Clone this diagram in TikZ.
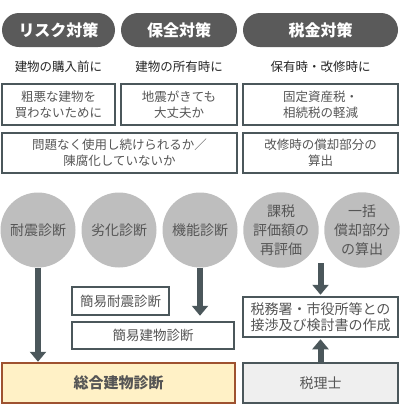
\documentclass[tikz,border=0pt]{standalone}
\usepackage{fontspec}
\setmainfont{Noto Sans CJK JP}
\usetikzlibrary{arrows.meta}
\definecolor{pillgray}{HTML}{5A5A5A}
\definecolor{slate}{HTML}{4B575B}
\definecolor{circgray}{HTML}{BEBEBE}
\definecolor{txtgray}{HTML}{555555}
\definecolor{sogofill}{HTML}{FFF1C6}
\definecolor{sogoline}{HTML}{9E5230}
\definecolor{zeirifill}{HTML}{EFEFEF}
\tikzset{%
  pill/.style={fill=pillgray, text=white, rounded corners=17pt, minimum height=34pt,
               inner sep=0pt, font=\fontsize{16}{18}\selectfont\bfseries},
  sub/.style={text=black!85, font=\fontsize{12.5}{14}\selectfont},
  frame/.style={draw=slate, line width=2.5pt, fill=white, text=txtgray, inner sep=0pt,
                align=center, font=\fontsize{12.5}{16}\selectfont},
  diag/.style={circle, fill=circgray, text=txtgray, minimum size=75pt, inner sep=0pt,
               align=center, font=\fontsize{14}{19}\selectfont},
  flow/.style={draw=slate, line width=6pt, -{Triangle[width=16pt,length=10pt]}},
}
\begin{document}
\begin{tikzpicture}[x=1pt,y=-1pt]
  \useasboundingbox (0,0) rectangle (400,418);
  \node[pill, minimum width=113pt] (risk) at (58.5,30) {リスク対策};
  \node[pill, minimum width=116pt] (hozen) at (179,30) {保全対策};
  \node[pill, minimum width=155pt] (zeikin) at (320.5,30) {税金対策};
  \node[sub] (s1) at (58.5,67) {建物の購入前に};
  \node[sub] (s2) at (179,67) {建物の所有時に};
  \node[sub] (s3) at (320.5,67) {保有時・改修時に};
  \node[frame, minimum width=113pt, minimum height=41pt] (b1) at (58.5,104.5) {粗悪な建物を\\買わないために};
  \node[frame, minimum width=116pt, minimum height=41pt] (b2) at (179,104.5) {地震がきても\\大丈夫か};
  \node[frame, minimum width=155pt, minimum height=41pt] (b3) at (320.5,104.5) {固定資産税・\\相続税の軽減};
  \node[frame, minimum width=235pt, minimum height=40pt] (b4) at (119.5,153) {問題なく使用し続けられるか／\\陳腐化していないか};
  \node[frame, minimum width=155pt, minimum height=40pt] (b5) at (320.5,153) {改修時の償却部分の\\算出};
  \node[diag] (c1) at (38,230) {耐震診断};
  \node[diag] (c2) at (119,230) {劣化診断};
  \node[diag] (c3) at (200,230) {機能診断};
  \node[diag] (c4) at (281,230) {課税\\評価額の\\再評価};
  \node[diag] (c5) at (362,230) {一括\\償却部分\\の算出};
  \node[frame, minimum width=97pt, minimum height=28pt, font=\fontsize{13.5}{15}\selectfont] (k1) at (120.5,301) {簡易耐震診断};
  \node[frame, minimum width=162pt, minimum height=27pt, font=\fontsize{13.5}{15}\selectfont] (k2) at (153,335.5) {簡易建物診断};
  \node[frame, draw=sogoline, fill=sogofill, minimum width=233pt, minimum height=40pt,
        font=\fontsize{15}{17}\selectfont\bfseries] (sogo) at (118.5,383) {総合建物診断};
  \node[frame, minimum width=155pt, minimum height=40pt, font=\fontsize{14}{15.5}\selectfont] (zeimu) at (320.5,317) {税務署・市役所等との\\接渉及び検討書の作成};
  \node[frame, fill=zeirifill, minimum width=155pt, minimum height=40pt, font=\fontsize{14}{16}\selectfont] (zeiri) at (320.5,383) {税理士};
  \coordinate (tx) at (320.5,263);
  \draw[flow] (c1) -- (c1 |- sogo.north);
  \draw[flow, shorten >=5pt] (c3) -- (c3 |- k2.north);
  \draw[flow, shorten >=1pt] (tx) -- (zeimu.north);
  \draw[flow, shorten >=1pt] (zeiri.north) -- (zeimu.south);
\end{tikzpicture}
\end{document}
